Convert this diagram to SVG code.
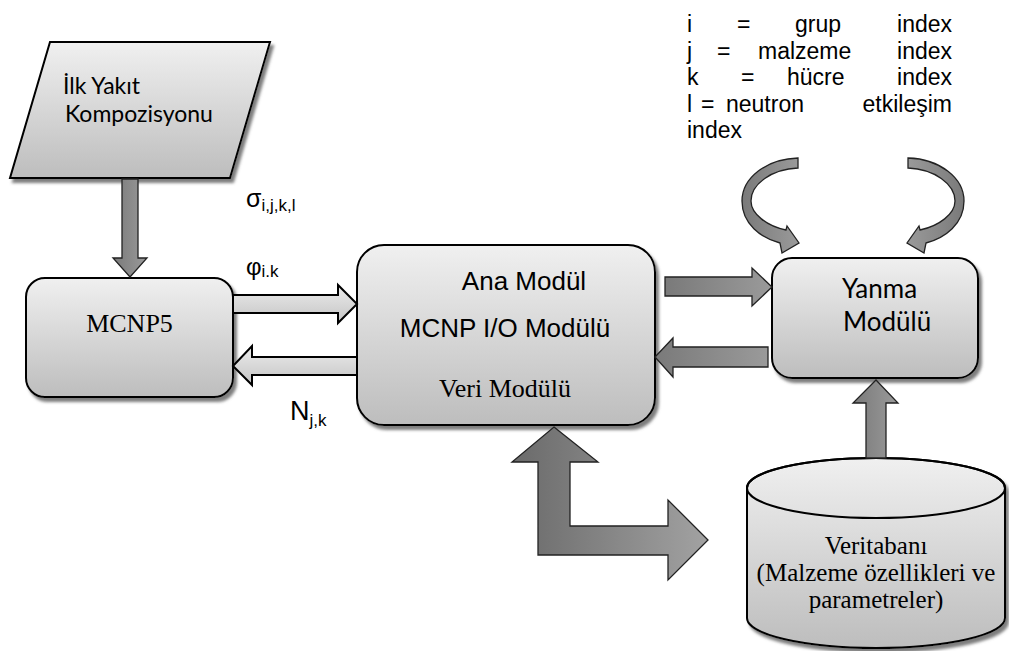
<svg xmlns="http://www.w3.org/2000/svg" width="1009" height="651" viewBox="0 0 1009 651">
<defs>
  <linearGradient id="boxg" x1="0" y1="0" x2="0" y2="1">
    <stop offset="0" stop-color="#f0f0f0"/>
    <stop offset="1" stop-color="#bdbdbd"/>
  </linearGradient>
  <linearGradient id="lightArrow" x1="0" y1="0" x2="0" y2="1">
    <stop offset="0" stop-color="#ececec"/>
    <stop offset="1" stop-color="#c4c4c4"/>
  </linearGradient>
  <linearGradient id="darkArrow" x1="0" y1="0" x2="1" y2="0">
    <stop offset="0" stop-color="#7a7a7a"/>
    <stop offset="1" stop-color="#9a9a9a"/>
  </linearGradient>
  <linearGradient id="lshape" x1="0" y1="0" x2="1" y2="0">
    <stop offset="0" stop-color="#6a6a6a"/>
    <stop offset="1" stop-color="#a2a2a2"/>
  </linearGradient>
  <filter id="shadow" x="-10%" y="-10%" width="130%" height="130%">
    <feDropShadow dx="3" dy="4" stdDeviation="1.5" flood-color="#707070" flood-opacity="0.9"/>
  </filter>
</defs>
<style>
  .node { fill: url(#boxg); stroke: #000; stroke-width: 2; filter: url(#shadow); }
  .light { fill: url(#lightArrow); stroke: #000; stroke-width: 2; }
  .dark { fill: url(#darkArrow); stroke: #222; stroke-width: 1.3; }
  .sans { font-family: "Liberation Sans", Arial, sans-serif; fill: #000; }
  .serif { font-family: "Liberation Serif", "Times New Roman", serif; fill: #000; }
  .cal { font-family: Lato, "Open Sans", sans-serif; fill: #000; }
</style>
<rect width="1009" height="651" fill="#fff"/>

<g id="ilk-yakit">
  <polygon class="node" points="50,42 270,42 230,178 10,178"/>
  <text class="cal" x="63" y="94" font-size="23">İlk Yakıt</text>
  <text class="cal" x="65" y="122" font-size="23">Kompozisyonu</text>
</g>

<g id="mcnp5">
  <rect class="node" x="26" y="278" width="207" height="119" rx="19"/>
  <text class="serif" x="129.5" y="332" font-size="26" text-anchor="middle">MCNP5</text>
</g>

<g id="ana-modul">
  <rect class="node" x="357" y="245" width="298" height="180" rx="27"/>
  <text class="sans" x="524" y="290" font-size="26" text-anchor="middle">Ana Modül</text>
  <text class="sans" x="505" y="337" font-size="26" text-anchor="middle">MCNP I/O Modülü</text>
  <text class="serif" x="505" y="397" font-size="26" text-anchor="middle">Veri Modülü</text>
</g>

<g id="yanma-modulu">
  <rect class="node" x="772" y="258" width="206" height="120" rx="20"/>
  <text class="cal" x="842" y="298" font-size="26">Yanma</text>
  <text class="cal" x="843" y="331" font-size="26">Modülü</text>
</g>

<g id="veritabani">
  <path class="node" d="M747,488 A129,30 0 0 1 1005,488 L1005,618 A129,30 0 0 1 747,618 Z"/>
  <ellipse cx="876" cy="488" rx="129" ry="30" fill="none" stroke="#000" stroke-width="2"/>
  <text class="serif" x="876" y="554" font-size="25" text-anchor="middle">Veritabanı</text>
  <text class="serif" x="876" y="581" font-size="25" text-anchor="middle">(Malzeme özellikleri ve</text>
  <text class="serif" x="876" y="608" font-size="25" text-anchor="middle">parametreler)</text>
</g>

<g id="legend" class="sans" font-size="23">
  <text x="687" y="32">i</text>
  <text x="737" y="32">=</text>
  <text x="795" y="32">grup</text>
  <text x="952" y="32" text-anchor="end">index</text>
  <text x="687" y="58.5">j</text>
  <text x="717" y="58.5">=</text>
  <text x="758" y="58.5">malzeme</text>
  <text x="952" y="58.5" text-anchor="end">index</text>
  <text x="687" y="85">k</text>
  <text x="741" y="85">=</text>
  <text x="787" y="85">hücre</text>
  <text x="952" y="85" text-anchor="end">index</text>
  <text x="687" y="111.5">l</text>
  <text x="701" y="111.5">=</text>
  <text x="726" y="111.5">neutron</text>
  <text x="952" y="111.5" text-anchor="end">etkileşim</text>
  <text x="687" y="138">index</text>
</g>

<g id="labels" class="sans">
  <text x="246" y="207" font-size="25">σ<tspan font-size="17" dy="4">i,j,k,l</tspan></text>
  <text x="246" y="275" font-size="24">φ<tspan font-size="17" dy="2">i.k</tspan></text>
  <text x="290" y="420" font-size="27">N<tspan font-size="17" dy="6">j,k</tspan></text>
</g>

<g id="connectors">
  <!-- parallelogram to MCNP5 -->
  <polygon class="dark" points="122,179 138,179 138,258 147,258 130,277 113,258 122,258"/>
  <!-- MCNP5 to Ana Modul -->
  <polygon class="light" points="233,295 338,295 338,285 357,304 338,323 338,313 233,313"/>
  <!-- Ana Modul to MCNP5 -->
  <polygon class="light" points="357,357 252,357 252,346 233,366 252,385 252,375 357,375"/>
  <!-- Ana Modul to Yanma -->
  <polygon class="dark" points="665,277 752,277 752,268 772,287 752,306 752,296 665,296"/>
  <!-- Yanma to Ana Modul -->
  <polygon class="dark" points="768,347 673,347 673,338 655,357 673,377 673,367 768,367"/>
  <!-- Veritabani to Yanma -->
  <polygon class="dark" points="866,458 866,403 853,403 876,380 898,403 886,403 886,458"/>
  <!-- L-shaped double arrow -->
  <polygon fill="url(#lshape)" stroke="#222" stroke-width="1.3" points="554,427 598,462 570,462 570,526 668,526 668,500 708,540 668,580 668,555 538,555 538,462 512,462"/>
  <!-- curved loop arrows -->
  <path id="curve-left" class="dark" d="M798,158 C766,159 742,178 742,201 C742,224 761,238 780,243 L782,253 L799,243 L787,226 L786,230 C767,226 751,214 751,201 C751,184 772,169 798,168 Z"/>
  <path id="curve-right" class="dark" transform="matrix(-1 0 0 1 1706 0)" d="M798,158 C766,159 742,178 742,201 C742,224 761,238 780,243 L782,253 L799,243 L787,226 L786,230 C767,226 751,214 751,201 C751,184 772,169 798,168 Z"/>
</g>
</svg>
